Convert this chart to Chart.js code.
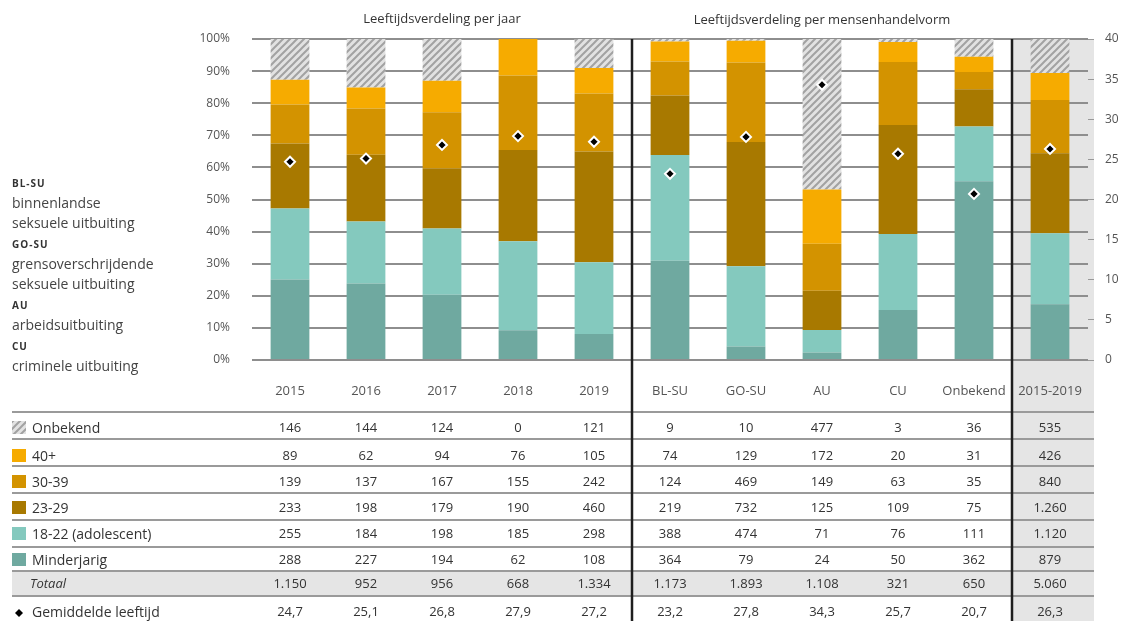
<!DOCTYPE html>
<html>
<head>
<meta charset="utf-8">
<script src="https://cdn.jsdelivr.net/npm/chart.js@4.4.0/dist/chart.umd.min.js"></script>
<style>
body { margin: 0; background: #fff; font-family: "Open Sans", sans-serif; color: #3a3a3a; }
#wrap { position: relative; width: 1128px; height: 621px; overflow: hidden; }
#chart { position: absolute; left: 0; top: 0; }
.t { position: absolute; white-space: nowrap; }
.c { transform: translate(-50%, -50%); }
.l { transform: translateY(-50%); }
#legend { position: absolute; left: 12px; top: 172px; font-size: 14px; line-height: 20px; color: #444; }
#legend b { font-size: 10px; letter-spacing: 1px; color: #333; }
</style>
</head>
<body>
<div id="wrap">
<canvas id="chart" width="1128" height="621"></canvas>
<div id="legend">
<b>BL-SU</b><br>binnenlandse<br>seksuele uitbuiting<br>
<b>GO-SU</b><br>grensoverschrijdende<br>seksuele uitbuiting<br>
<b>AU</b><br>arbeidsuitbuiting<br>
<b>CU</b><br>criminele uitbuiting
</div>
<div id="overlay"></div>
</div>
<script>
// categorieën en aantallen (tabel onder de grafiek)
const categories = ['2015', '2016', '2017', '2018', '2019', 'BL-SU', 'GO-SU', 'AU', 'CU', 'Onbekend', '2015-2019'];
const minderjarig = [288, 227, 194, 62, 108, 364, 79, 24, 50, 362, 879];
const adolescent = [255, 184, 198, 185, 298, 388, 474, 71, 76, 111, 1120];
const leeftijd2329 = [233, 198, 179, 190, 460, 219, 732, 125, 109, 75, 1260];
const leeftijd3039 = [139, 137, 167, 155, 242, 124, 469, 149, 63, 35, 840];
const leeftijd40 = [89, 62, 94, 76, 105, 74, 129, 172, 20, 31, 426];
const onbekend = [146, 144, 124, 0, 121, 9, 10, 477, 3, 36, 535];
const totaal = [1150, 952, 956, 668, 1334, 1173, 1893, 1108, 321, 650, 5060];
const gemLeeftijd = [24.7, 25.1, 26.8, 27.9, 27.2, 23.2, 27.8, 34.3, 25.7, 20.7, 26.3];
const leftTicks = ['0%', '10%', '20%', '30%', '40%', '50%', '60%', '70%', '80%', '90%', '100%'];

const colors = {
    minderjarig: '#6fa9a0',
    adolescent: '#84c9be',
    a2329: '#a87900',
    a3039: '#d39300',
    a40: '#f6ab00'
};

function makeHatch() {
    const c = document.createElement('canvas');
    c.width = 7; c.height = 7;
    const g = c.getContext('2d');
    g.fillStyle = '#e2e2e2';
    g.fillRect(0, 0, 7, 7);
    g.strokeStyle = '#a2a2a2';
    g.lineWidth = 2;
    g.beginPath();
    g.moveTo(-1, 1); g.lineTo(1, -1);
    g.moveTo(-1, 8); g.lineTo(8, -1);
    g.moveTo(6, 8); g.lineTo(8, 6);
    g.stroke();
    return g.createPattern(c, 'repeat');
}
const hatch = makeHatch();

// percentages per kolom (de staven zijn geschaald op de som van de categorieën)
const kolomSom = categories.map((c, i) =>
    minderjarig[i] + adolescent[i] + leeftijd2329[i] + leeftijd3039[i] + leeftijd40[i] + onbekend[i]);
const pct = arr => arr.map((v, i) => v / kolomSom[i] * 100);

// tabelrijen
const rows = [
    { label: 'Onbekend', data: onbekend, swatch: 'hatch' },
    { label: '40+', data: leeftijd40, swatch: colors.a40 },
    { label: '30-39', data: leeftijd3039, swatch: colors.a3039 },
    { label: '23-29', data: leeftijd2329, swatch: colors.a2329 },
    { label: '18-22 (adolescent)', data: adolescent, swatch: colors.adolescent },
    { label: 'Minderjarig', data: minderjarig, swatch: colors.minderjarig }
];
const rowY = [427, 455, 481, 507, 533, 559];
const lineY = [412, 439, 466, 493, 520, 547, 571, 596];
const totaalY = 583, gemY = 611;

function fmt(n) { return String(n).replace(/\B(?=(\d{3})+(?!\d))/g, '.'); }
function fmtDec(n) { return n.toFixed(1).replace('.', ','); }

const tablePlugin = {
    id: 'tablePlugin',
    beforeDraw(chart) {
        const ctx = chart.ctx, a = chart.chartArea, x = chart.scales.x;
        ctx.save();
        ctx.fillStyle = '#e5e5e5';
        const gx = x.getPixelForValue(9.5);
        ctx.fillRect(gx, a.top, a.right + 6 - gx, 621 - a.top);
        ctx.fillRect(12, lineY[6], a.right + 6 - 12, lineY[7] - lineY[6]);
        ctx.restore();
    },
    afterDraw(chart) {
        const ctx = chart.ctx, a = chart.chartArea, x = chart.scales.x;
        ctx.save();
        // rijlijnen
        ctx.strokeStyle = '#9a9a9a';
        ctx.lineWidth = 2;
        lineY.forEach(y => {
            ctx.beginPath();
            ctx.moveTo(12, y);
            ctx.lineTo(a.right + 6, y);
            ctx.stroke();
        });
        // kleurvakjes
        rows.forEach((r, i) => {
            ctx.fillStyle = r.swatch === 'hatch' ? hatch : r.swatch;
            ctx.fillRect(12, rowY[i] - 6, 14, 13);
        });
        // ruitje gemiddelde leeftijd
        ctx.fillStyle = '#000';
        ctx.beginPath();
        ctx.moveTo(19, gemY - 2); ctx.lineTo(23, gemY + 2); ctx.lineTo(19, gemY + 6); ctx.lineTo(15, gemY + 2);
        ctx.closePath();
        ctx.fill();
        // verticale scheidingslijnen
        ctx.strokeStyle = '#1e1e1e';
        ctx.lineWidth = 2.5;
        [4.5, 9.5].forEach(v => {
            const px = x.getPixelForValue(v);
            ctx.beginPath();
            ctx.moveTo(px, a.top);
            ctx.lineTo(px, 621);
            ctx.stroke();
        });
        ctx.restore();
    }
};

const barBase = { type: 'bar', yAxisID: 'y', borderWidth: 0, barPercentage: 0.51, categoryPercentage: 1, order: 1 };

const chart = new Chart(document.getElementById('chart'), {
    data: {
        labels: categories,
        datasets: [
            { type: 'line', label: 'Gemiddelde leeftijd', data: gemLeeftijd, yAxisID: 'y1', showLine: false,
              pointStyle: 'rectRot', pointRadius: 5, pointBackgroundColor: '#000', pointBorderColor: '#fff',
              pointBorderWidth: 2, order: 0 },
            { ...barBase, label: 'Minderjarig', data: pct(minderjarig), backgroundColor: colors.minderjarig },
            { ...barBase, label: '18-22 (adolescent)', data: pct(adolescent), backgroundColor: colors.adolescent },
            { ...barBase, label: '23-29', data: pct(leeftijd2329), backgroundColor: colors.a2329 },
            { ...barBase, label: '30-39', data: pct(leeftijd3039), backgroundColor: colors.a3039 },
            { ...barBase, label: '40+', data: pct(leeftijd40), backgroundColor: colors.a40 },
            { ...barBase, label: 'Onbekend', data: pct(onbekend), backgroundColor: hatch }
        ]
    },
    options: {
        responsive: false,
        animation: false,
        layout: { padding: { left: 192, right: 5, top: 39, bottom: 221 } },
        plugins: { legend: { display: false }, tooltip: { enabled: false } },
        scales: {
            x: {
                stacked: true,
                grid: { display: false },
                border: { display: false },
                ticks: { color: '#555', font: { family: 'Open Sans', size: 13 }, padding: 15 },
                afterFit: s => { s.height = 40; }
            },
            y: {
                stacked: true,
                position: 'left',
                min: 0, max: 100,
                grid: { color: '#8e8e8e', lineWidth: 2, drawTicks: false },
                border: { display: false },
                ticks: { stepSize: 10, color: '#555', padding: 22, font: { family: 'Open Sans', size: 12 },
                         callback: (v, i) => leftTicks[i] },
                afterFit: s => { s.width = 60; }
            },
            y1: {
                position: 'right',
                min: 0, max: 40,
                grid: { drawOnChartArea: false, color: '#999', tickLength: 6, lineWidth: 1 },
                border: { display: false },
                ticks: { stepSize: 5, color: '#555', padding: 11, font: { family: 'Open Sans', size: 12 } },
                afterFit: s => { s.width = 35; }
            }
        }
    },
    plugins: [tablePlugin]
});

// tekst boven en in de tabel
const overlay = document.getElementById('overlay');
function addText(txt, x, y, cls, style) {
    const d = document.createElement('div');
    d.className = 't ' + cls;
    d.textContent = txt;
    d.style.left = x + 'px';
    d.style.top = y + 'px';
    Object.assign(d.style, style || {});
    overlay.appendChild(d);
}
const xs = chart.scales.x;
const area = chart.chartArea;
const colX = categories.map((c, i) => xs.getPixelForValue(i));
const titleStyle = { fontSize: '13px', color: '#333' };
addText('Leeftijdsverdeling per jaar', (area.left + xs.getPixelForValue(4.5)) / 2, 18, 'c', titleStyle);
addText('Leeftijdsverdeling per mensenhandelvorm', (xs.getPixelForValue(4.5) + xs.getPixelForValue(9.5)) / 2, 19, 'c', titleStyle);

const cellStyle = { fontSize: '13px', color: '#333' };
rows.forEach((r, ri) => {
    addText(r.label, 32, rowY[ri], 'l', { fontSize: '14px', color: '#333' });
    r.data.forEach((v, i) => addText(fmt(v), colX[i], rowY[ri], 'c', cellStyle));
});
addText('Totaal', 30, totaalY, 'l', { fontSize: '13px', fontStyle: 'italic', color: '#333' });
totaal.forEach((v, i) => addText(fmt(v), colX[i], totaalY, 'c', cellStyle));
addText('Gemiddelde leeftijd', 32, gemY, 'l', { fontSize: '14px', color: '#333' });
gemLeeftijd.forEach((v, i) => addText(fmtDec(v), colX[i], gemY, 'c', cellStyle));
</script>
</body>
</html>
